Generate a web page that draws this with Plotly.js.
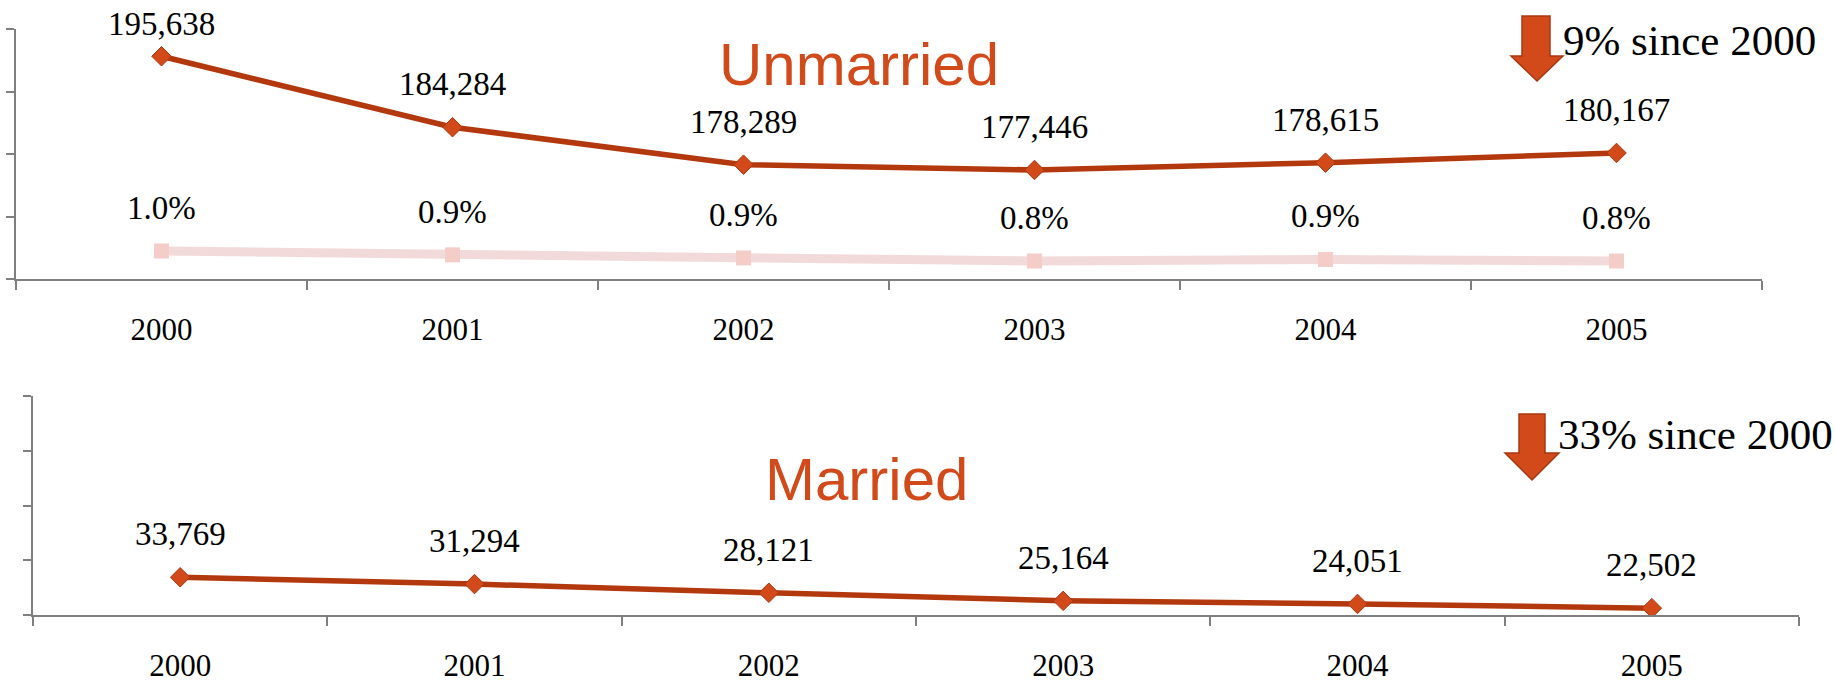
<!DOCTYPE html>
<html>
<head>
<meta charset="utf-8">
<script src="https://cdn.plot.ly/plotly-3.0.1.min.js"></script>
<style>html,body{margin:0;padding:0;background:#fff;}#chart{width:1835px;height:683px;}</style>
</head>
<body>
<div id="chart"></div>
<script>
// ---- data ----
const years = ['2000', '2001', '2002', '2003', '2004', '2005'];
const unmarried = [195638, 184284, 178289, 177446, 178615, 180167];
const unmarriedRate = [0.0097, 0.0092, 0.0088, 0.0084, 0.0086, 0.0084];
const unmarriedRateLabels = ['1.0%', '0.9%', '0.9%', '0.8%', '0.9%', '0.8%'];
const married = [33769, 31294, 28121, 25164, 24051, 22502];
const unmarriedTitle = 'Unmarried';
const marriedTitle = 'Married';
const unmarriedChange = '9% since 2000';
const marriedChange = '33% since 2000';

// ---- layout geometry ----
const W = 1835, H = 683;
const top1 = 29, bot1 = 279, left1 = 16, right1 = 1762;
const top2 = 396, bot2 = 615, left2 = 33, right2 = 1799;
const y1Range = [160000, 200000];
const y2Range = [0.00606, 0.03856];
const y3Range = [20000, 100000];

const orange = '#B3380E', markerFill = '#D2491A', markerLine = '#A8380F';
const pinkLine = '#F2DADA', pinkMarker = '#F4CDC9';
const axisGrey = '#7F7F7F';
const serif = 'Liberation Serif, Times New Roman, serif';
const sans = 'Liberation Sans, Arial, sans-serif';

const fmt = v => v.toLocaleString('en-US');

const traces = [
  {x: years, y: unmarriedRate, xaxis: 'x', yaxis: 'y2', type: 'scatter', mode: 'lines+markers',
   line: {color: pinkLine, width: 9}, marker: {symbol: 'square', size: 15, color: pinkMarker}, hoverinfo: 'skip'},
  {x: years, y: unmarried, xaxis: 'x', yaxis: 'y', type: 'scatter', mode: 'lines+markers',
   line: {color: orange, width: 5.5}, marker: {symbol: 'diamond', size: 15, color: markerFill, line: {color: markerLine, width: 1}}, hoverinfo: 'skip'},
  {x: years, y: married, xaxis: 'x2', yaxis: 'y3', type: 'scatter', mode: 'lines+markers',
   line: {color: orange, width: 5.5}, marker: {symbol: 'diamond', size: 15, color: markerFill, line: {color: markerLine, width: 1}}, hoverinfo: 'skip'}
];

function pix(v, range, top, bot) { return top + (range[1] - v) / (range[1] - range[0]) * (bot - top); }

const annotations = [];
function addLabels(vals, texts, xref, yref, range, top, bot) {
  vals.forEach((v, i) => {
    const py = pix(v, range, top, bot);
    const shift = Math.min(43, py - 24);
    // category axis: position by category index
    annotations.push({x: i, y: v, xref: xref, yref: yref, text: texts[i], showarrow: false,
      yshift: shift, xanchor: 'center', yanchor: 'middle', font: {family: serif, size: 33, color: '#000'}});
  });
}
addLabels(unmarried, unmarried.map(fmt), 'x', 'y', y1Range, top1, bot1);
addLabels(unmarriedRate, unmarriedRateLabels, 'x', 'y2', y2Range, top1, bot1);
addLabels(married, married.map(fmt), 'x2', 'y3', y3Range, top2, bot2);

const px = x => x / W, py = y => 1 - y / H;
annotations.push({xref: 'paper', yref: 'paper', x: px(859), y: py(64), text: unmarriedTitle, showarrow: false,
  xanchor: 'center', yanchor: 'middle', font: {family: sans, size: 60, color: '#D2491A'}});
annotations.push({xref: 'paper', yref: 'paper', x: px(866), y: py(479), text: marriedTitle, showarrow: false,
  xanchor: 'center', yanchor: 'middle', font: {family: sans, size: 60, color: '#D2491A'}});
annotations.push({xref: 'paper', yref: 'paper', x: px(1561), y: py(40), text: unmarriedChange, showarrow: false,
  xanchor: 'left', yanchor: 'middle', font: {family: serif, size: 43, color: '#000'}});
annotations.push({xref: 'paper', yref: 'paper', x: px(1556), y: py(434), text: marriedChange, showarrow: false,
  xanchor: 'left', yanchor: 'middle', font: {family: serif, size: 43, color: '#000'}});

function arrowPath(sx0, sx1, ty, hy, hx0, hx1, tipx, tipy) {
  const f = (x, y) => px(x) + ',' + py(y);
  return 'M' + f(sx0, ty) + ' L' + f(sx1, ty) + ' L' + f(sx1, hy) + ' L' + f(hx1, hy) + ' L' + f(tipx, tipy) +
    ' L' + f(hx0, hy) + ' L' + f(sx0, hy) + ' Z';
}
const shapes = [
  {type: 'path', xref: 'paper', yref: 'paper', path: arrowPath(1522, 1550, 16, 56, 1511, 1563, 1537, 81),
   fillcolor: '#D2491A', line: {color: '#A8380F', width: 1.5}},
  {type: 'path', xref: 'paper', yref: 'paper', path: arrowPath(1519, 1545, 414, 453, 1505, 1559, 1532, 480),
   fillcolor: '#D2491A', line: {color: '#A8380F', width: 1.5}}
];

const xCommon = {type: 'category', range: [-0.5, 5.5], showline: true, linecolor: axisGrey, linewidth: 2,
  ticks: 'outside', tickson: 'boundaries', ticklen: 9, tickwidth: 2, tickcolor: axisGrey,
  showgrid: false, zeroline: false, fixedrange: true, ticklabelstandoff: 22,
  tickfont: {family: serif, size: 31, color: '#000'}};
const yCommon = {showline: true, linecolor: axisGrey, linewidth: 2, ticks: 'outside', ticklen: 8, tickwidth: 2,
  tickcolor: axisGrey, showticklabels: false, showgrid: false, zeroline: false, fixedrange: true};

const layout = {
  width: W, height: H, margin: {l: 0, r: 0, t: 0, b: 0}, paper_bgcolor: '#fff', plot_bgcolor: '#fff',
  showlegend: false,
  xaxis: Object.assign({}, xCommon, {domain: [px(left1), px(right1)], anchor: 'y'}),
  yaxis: Object.assign({}, yCommon, {domain: [py(bot1), py(top1)], range: y1Range, dtick: 10000, anchor: 'x'}),
  yaxis2: {overlaying: 'y', range: y2Range, visible: false, fixedrange: true},
  xaxis2: Object.assign({}, xCommon, {domain: [px(left2), px(right2)], anchor: 'y3'}),
  yaxis3: Object.assign({}, yCommon, {domain: [py(bot2), py(top2)], range: y3Range, dtick: 20000, anchor: 'x2'}),
  annotations: annotations, shapes: shapes
};

Plotly.newPlot('chart', traces, layout, {staticPlot: true, displayModeBar: false});
</script>
</body>
</html>
